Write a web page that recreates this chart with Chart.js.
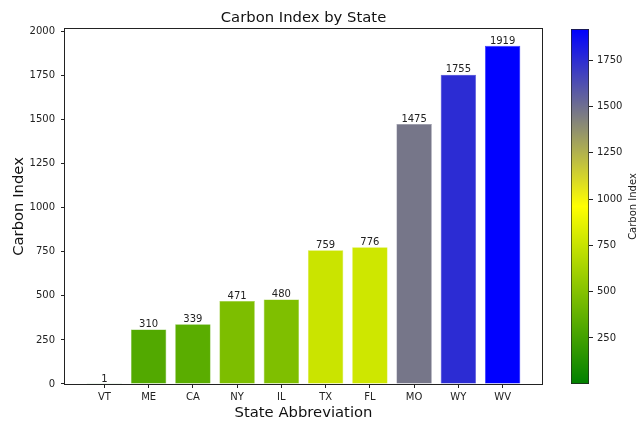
<!DOCTYPE html>
<html><head><meta charset="utf-8">
<script src="https://cdn.jsdelivr.net/npm/chart.js@4.4.0/dist/chart.umd.min.js"></script>
<style>
html,body{margin:0;padding:0;background:#fff;width:642px;height:422px;overflow:hidden}
#main{position:absolute;left:0;top:0}
#cbar{position:absolute;left:545px;top:0}
</style></head><body>
<canvas id="main" width="642" height="422"></canvas>
<canvas id="cbar" width="97" height="422"></canvas>
<script>
const states = ['VT','ME','CA','NY','IL','TX','FL','MO','WY','WV'];
const carbonIndex = [1,310,339,471,480,759,776,1475,1755,1919];
const yTicks = [0,250,500,750,1000,1250,1500,1750,2000];
const colorbarTicks = [250,500,750,1000,1250,1500,1750];
const cmapStops = ['#008000','#ffff00','#0000ff'];

const FONT = 'DejaVu Sans';
const TXT = '#222';
const TICK = 10;
const BIG = 14.8;
Chart.defaults.font.family = FONT;
Chart.defaults.color = TXT;

function hexToRgb(h){return [parseInt(h.slice(1,3),16),parseInt(h.slice(3,5),16),parseInt(h.slice(5,7),16)];}
function cmap(t){
  t = Math.max(0, Math.min(1, t));
  const n = cmapStops.length - 1;
  const k = Math.min(n - 1, Math.floor(t * n));
  const s = t * n - k;
  const a = hexToRgb(cmapStops[k]), b = hexToRgb(cmapStops[k+1]);
  return a.map((c,i)=>Math.round(c + (b[i]-c)*s));
}
const rgb = c => `rgb(${c[0]},${c[1]},${c[2]})`;
const vmin = Math.min(...carbonIndex), vmax = Math.max(...carbonIndex);
const barRgb = carbonIndex.map(v => cmap((v - vmin) / (vmax - vmin)));
const barColors = barRgb.map(rgb);
const edgeColors = barRgb.map(c => rgb(c.map(x => Math.round(x + (255 - x) * 0.2))));

const n = states.length;
const xPad = 0.05 * (n - 1 + 0.8);
const plain = v => String(v);

const valueLabels = {
  id: 'valueLabels',
  afterDatasetsDraw(chart){
    const ctx = chart.ctx, area = chart.chartArea;
    ctx.save();
    ctx.strokeStyle = '#222';
    ctx.lineWidth = 1;
    ctx.strokeRect(Math.round(area.left) - 0.5, Math.round(area.top) - 0.5,
                   Math.round(area.right - area.left) + 1, Math.round(area.bottom - area.top) + 1);
    ctx.restore();
    const meta = chart.getDatasetMeta(0);
    ctx.save();
    ctx.font = `${TICK}px "${FONT}"`;
    ctx.fillStyle = TXT;
    ctx.textAlign = 'center';
    ctx.textBaseline = 'alphabetic';
    meta.data.forEach((bar, i) => {
      ctx.fillText(String(carbonIndex[i]), bar.x, bar.y - 2.3);
    });
    ctx.restore();
  }
};

new Chart(document.getElementById('main'), {
  type: 'bar',
  data: { datasets: [{
    data: carbonIndex.map((v, i) => ({x: i, y: v})),
    backgroundColor: barColors,
    borderColor: edgeColors,
    borderWidth: 0.6,
    barPercentage: 0.8,
    categoryPercentage: 1
  }]},
  options: {
    responsive: false, animation: false,
    layout: { padding: { left: 0, right: 100, top: 0, bottom: 0 } },
    plugins: {
      legend: { display: false }, tooltip: { enabled: false },
      title: { display: true, text: 'Carbon Index by State', fullSize: false,
               font: { size: BIG, weight: 'normal' }, color: '#111',
               padding: { top: 9.1, bottom: 2.1 } }
    },
    scales: {
      x: {
        type: 'linear', offset: false,
        min: -0.4 - xPad, max: n - 1 + 0.4 + xPad,
        afterBuildTicks: s => { s.ticks = states.map((_, i) => ({value: i})); },
        afterFit: s => { s.height = 38; },
        ticks: { callback: v => states[v], autoSkip: false, maxRotation: 0, minRotation: 0,
                 font: { size: TICK }, color: TXT, padding: 3 },
        grid: { display: true, drawOnChartArea: false, drawTicks: true, tickLength: 4, color: '#222', offset: false },
        border: { display: false },
        title: { display: true, text: 'State Abbreviation', font: { size: BIG }, color: '#111',
                 padding: { top: 0, bottom: 0 } }
      },
      y: {
        min: 0, max: vmax * 1.05,
        afterBuildTicks: s => { s.ticks = yTicks.map(v => ({value: v})); },
        afterFit: s => { s.width = 65; },
        ticks: { font: { size: TICK }, color: TXT, padding: 6, callback: plain },
        grid: { display: true, drawOnChartArea: false, drawTicks: true, tickLength: 4, color: '#222' },
        border: { display: false },
        title: { display: true, text: 'Carbon Index', font: { size: BIG }, color: '#111',
                 padding: { top: 9.9, bottom: 0 } }
      }
    }
  },
  plugins: [valueLabels]
});

const cbarLabel = {
  id: 'cbarLabel',
  afterDraw(chart){
    const ctx = chart.ctx, area = chart.chartArea;
    ctx.save();
    ctx.font = `${TICK}px "${FONT}"`;
    ctx.fillStyle = TXT;
    ctx.textAlign = 'center';
    ctx.textBaseline = 'middle';
    ctx.translate(88, (area.top + area.bottom) / 2);
    ctx.rotate(-Math.PI / 2);
    ctx.fillText('Carbon Index', 0, 0);
    ctx.restore();
  }
};

new Chart(document.getElementById('cbar'), {
  type: 'bar',
  data: { labels: [''], datasets: [{
    data: [[vmin, vmax]],
    backgroundColor: c => {
      const ch = c.chart, ys = ch.scales.y;
      if (!ys || !ch.chartArea) return cmapStops[0];
      const g = ch.ctx.createLinearGradient(0, ys.getPixelForValue(vmin), 0, ys.getPixelForValue(vmax));
      cmapStops.forEach((col, i) => g.addColorStop(i / (cmapStops.length - 1), col));
      return g;
    },
    borderColor: '#222', borderWidth: 1, borderSkipped: false,
    barPercentage: 1, categoryPercentage: 1
  }]},
  options: {
    responsive: false, animation: false,
    layout: { padding: { left: 26, top: 29, bottom: 38, right: 0 } },
    plugins: { legend: { display: false }, tooltip: { enabled: false } },
    scales: {
      x: { display: false, offset: true },
      y: {
        position: 'right', min: vmin, max: vmax,
        afterBuildTicks: s => { s.ticks = colorbarTicks.map(v => ({value: v})); },
        afterFit: s => { s.width = 53; },
        ticks: { font: { size: TICK }, color: TXT, padding: 4, callback: plain },
        grid: { display: true, drawOnChartArea: false, drawTicks: true, tickLength: 4, color: '#222' },
        border: { display: false }
      }
    }
  },
  plugins: [cbarLabel]
});
</script>
</body></html>
